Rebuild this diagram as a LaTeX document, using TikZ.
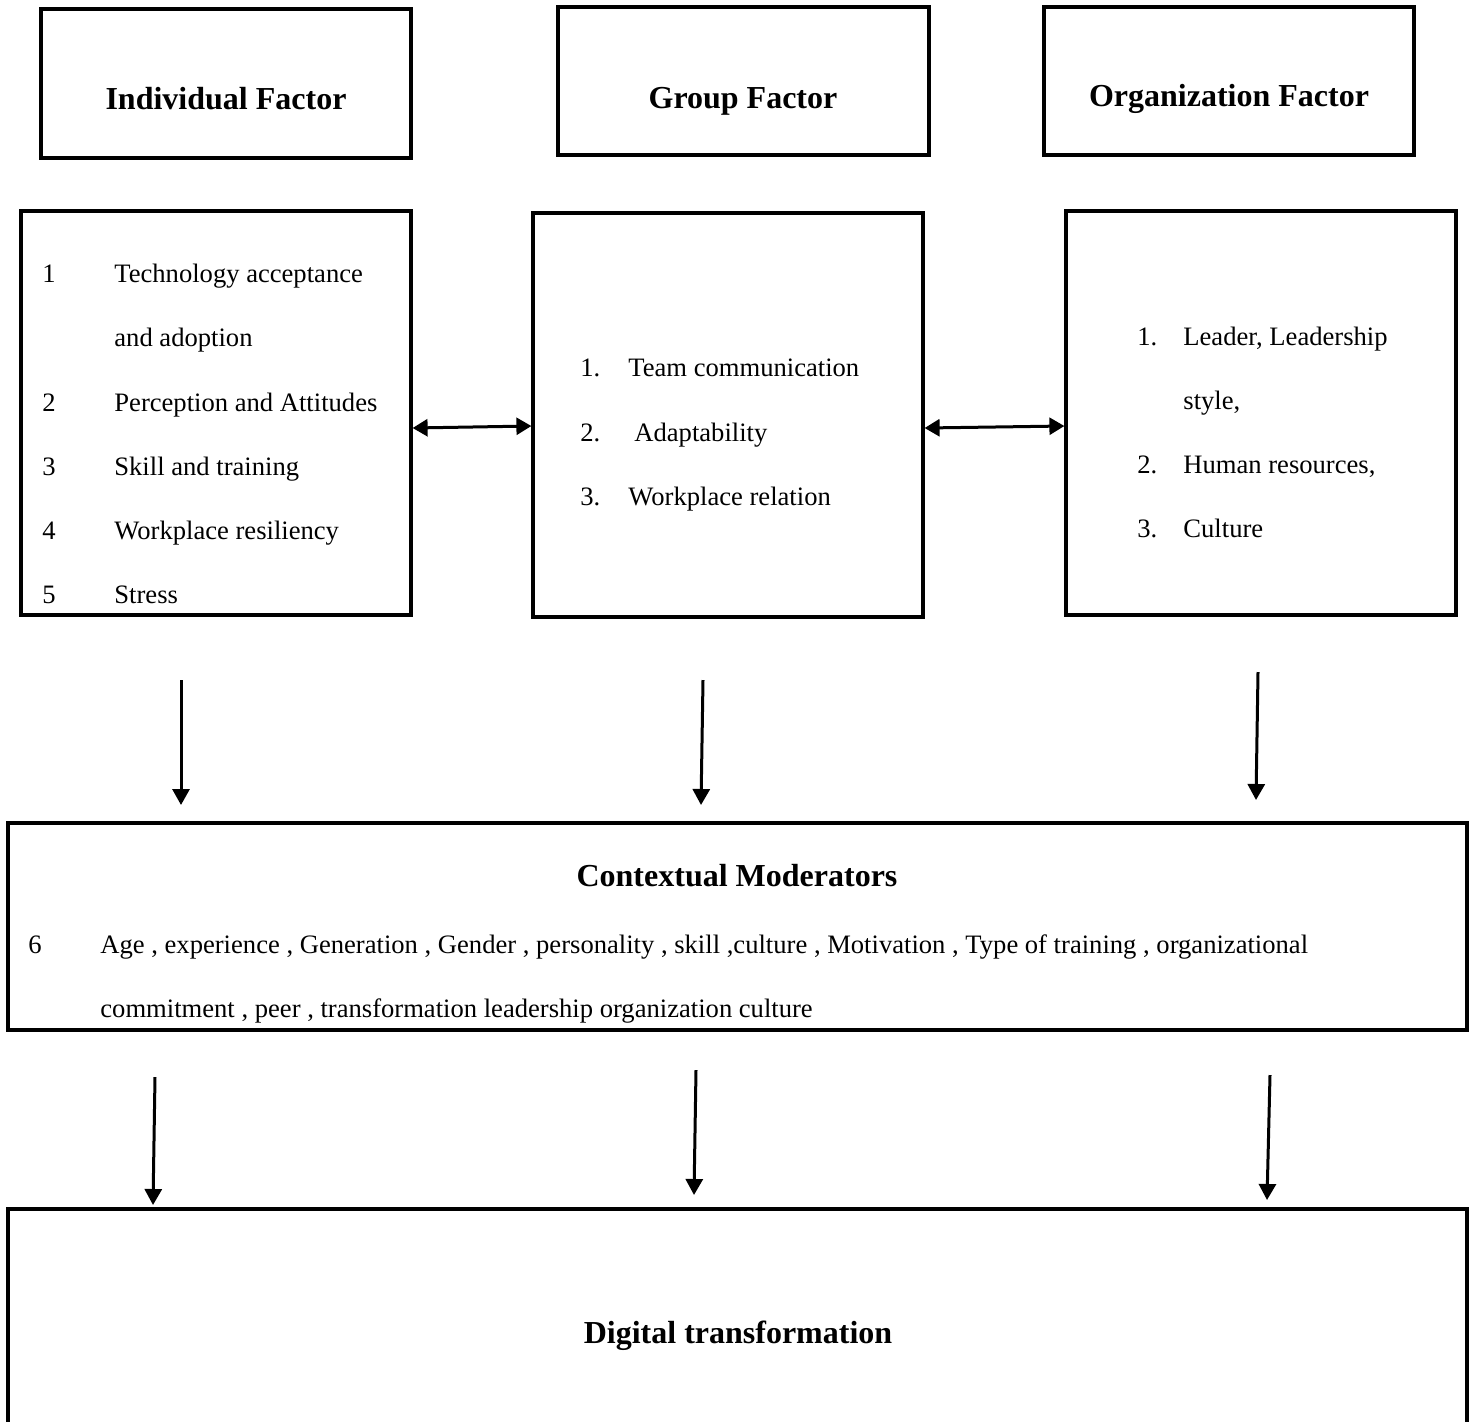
\documentclass[tikz,border=0pt]{standalone}
\usepackage{fontspec}
\setmainfont{Liberation Serif}
\usetikzlibrary{arrows.meta}

\begin{document}
\begin{tikzpicture}[x=0.5pt,y=-0.5pt,
    box/.style={draw, line width=1.6pt, inner sep=0pt},
    title/.style={font=\fontsize{16}{19}\selectfont\bfseries, inner sep=0pt, anchor=base},
    item/.style={font=\fontsize{13.3}{16}\selectfont, inner sep=0pt, anchor=base west},
    link/.style={line width=1.5pt, -{Triangle[length=8pt,width=8.5pt]}},
    both/.style={line width=1.5pt, {Triangle[length=7.5pt,width=8.5pt]}-{Triangle[length=7.5pt,width=8.5pt]}}]
    \useasboundingbox (0,0) rectangle (1471,1421);
    \clip (0,0) rectangle (1471,1421);
    % heading boxes of the three factors
    \node[box, minimum width=185pt, minimum height=74.5pt] (indH) at (226,83.5) {};
    \node[box, minimum width=185.5pt, minimum height=74pt] (grpH) at (743.5,81) {};
    \node[box, minimum width=185pt, minimum height=74pt] (orgH) at (1229,81) {};
    \node[title] (indT) at (226,109) {Individual Factor};
    \node[title] (grpT) at (743,108) {Group Factor};
    \node[title] (orgT) at (1229,106) {Organization Factor};
    % boxes holding the lists
    \node[box, minimum width=195pt, minimum height=202pt] (indL) at (216,413) {};
    \node[box, minimum width=195pt, minimum height=202pt] (grpL) at (728,415) {};
    \node[box, minimum width=195pt, minimum height=202pt] (orgL) at (1261,413) {};
    % individual factor list
    \foreach \yy/\nn [count=\k] in {282/1, 411/2, 475/3, 539/4, 603/5}
      \node[item] (indNum\k) at (42,\yy) {\nn};
    \foreach \yy/\txt [count=\k] in {282/Technology acceptance, 346/and adoption,
        411/Perception and Attitudes, 475/Skill and training,
        539/Workplace resiliency, 603/Stress}
      \node[item] (indItem\k) at (114,\yy) {\txt};
    % group factor list
    \foreach \yy/\nn [count=\k] in {376/1., 441/2., 505/3.}
      \node[item] (grpNum\k) at (580,\yy) {\nn};
    \node[item] (grpItem1) at (628,376) {Team communication};
    \node[item] (grpItem2) at (634,441) {Adaptability};
    \node[item] (grpItem3) at (628,505) {Workplace relation};
    % organization factor list
    \foreach \yy/\nn [count=\k] in {345/1., 473/2., 537/3.}
      \node[item] (orgNum\k) at (1137,\yy) {\nn};
    \foreach \yy/\txt [count=\k] in {345/{Leader, Leadership}, 409/{style,},
        473/{Human resources,}, 537/Culture}
      \node[item] (orgItem\k) at (1183,\yy) {\txt};
    % links between the lists
    \draw[both] ([yshift=-7.5pt]indL.east) -- ([yshift=-5.5pt]grpL.west);
    \draw[both] ([yshift=-6.5pt]grpL.east) -- ([yshift=-6.5pt]orgL.west);
    % moderators
    \node[box, minimum width=729.5pt, minimum height=103.5pt] (ctx) at (737.5,926.5) {};
    \node[title] (ctxT) at (737,886) {Contextual Moderators};
    \node[item] (ctxNum) at (28,953) {6};
    \node[item] (ctxItem1) at (100,953) {Age , experience , Generation , Gender , personality , skill ,culture , Motivation , Type of training , organizational};
    \node[item] (ctxItem2) at (100,1017) {commitment , peer , transformation leadership organization culture};
    % outcome
    \node[box, minimum width=729.5pt, minimum height=115.5pt] (dig) at (737.5,1324.5) {};
    \node[title] (digT) at (738,1343) {Digital transformation};
    % free ends of the downward arrows
    \coordinate (up1) at (181,680);   \coordinate (dn1) at (181,805);
    \coordinate (up2) at (703,680);   \coordinate (dn2) at (701,805);
    \coordinate (up3) at (1258,672);  \coordinate (dn3) at (1256,800);
    \coordinate (lo1) at (155,1077);  \coordinate (en1) at (153,1205);
    \coordinate (lo2) at (696,1070);  \coordinate (en2) at (694,1195);
    \coordinate (lo3) at (1270,1075); \coordinate (en3) at (1267,1200);
    \foreach \k in {1,2,3} {
      \draw[link] (up\k) -- (dn\k);
      \draw[link] (lo\k) -- (en\k);
    }
\end{tikzpicture}
\end{document}
